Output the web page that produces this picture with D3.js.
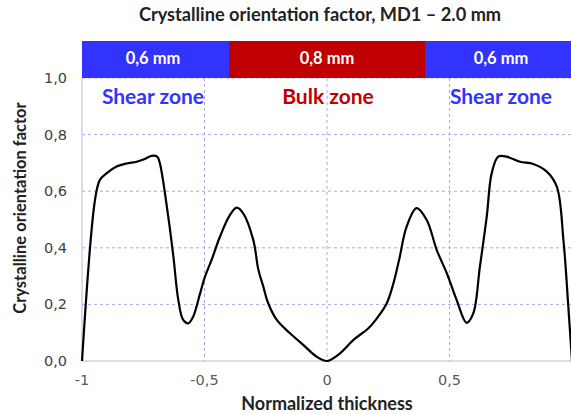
<!DOCTYPE html>
<html>
<head>
<meta charset="utf-8">
<script src="https://cdn.jsdelivr.net/npm/d3@7"></script>
<style>
  body { margin: 0; background: #fff; }
  text { font-family: Lato, "Open Sans", sans-serif; }
</style>
</head>
<body>
<svg id="chart" width="571" height="414"></svg>
<script>
// thickness vs orientation factor
var xs = [-1, -0.947, -0.927, -0.9, -0.859, -0.818, -0.777, -0.749, -0.716, -0.693, -0.682, -0.648, -0.627, -0.607, -0.587, -0.566, -0.546, -0.518, -0.498, -0.471, -0.437, -0.396, -0.369, -0.342, -0.301, -0.28, -0.26, -0.24, -0.205, -0.151, -0.097, -0.042, 0, 0.053, 0.107, 0.169, 0.209, 0.244, 0.271, 0.295, 0.325, 0.366, 0.407, 0.448, 0.489, 0.529, 0.57, 0.597, 0.624, 0.652, 0.672, 0.699, 0.733, 0.788, 0.842, 0.897, 0.938, 0.965, 0.985, 1];
var ys = [0, 0.569, 0.64, 0.663, 0.687, 0.698, 0.704, 0.712, 0.725, 0.722, 0.698, 0.51, 0.369, 0.216, 0.145, 0.133, 0.157, 0.239, 0.298, 0.357, 0.439, 0.516, 0.542, 0.522, 0.428, 0.322, 0.263, 0.204, 0.145, 0.098, 0.057, 0.015, 0, 0.027, 0.074, 0.116, 0.157, 0.204, 0.274, 0.36, 0.475, 0.54, 0.498, 0.392, 0.31, 0.216, 0.135, 0.168, 0.333, 0.51, 0.663, 0.722, 0.722, 0.704, 0.696, 0.669, 0.616, 0.428, 0.192, 0];

var xTicks = [-1, -0.5, 0, 0.5];
var yTicks = [0, 0.2, 0.4, 0.6, 0.8, 1.0];

var zoneStart = [-1, -0.4, 0.4];
var zoneEnd = [-0.4, 0.4, 1];
var zoneWidth = ["0,6 mm", "0,8 mm", "0,6 mm"];
var zoneName = ["Shear zone", "Bulk zone", "Shear zone"];
var zoneColor = ["#3333ff", "#c00000", "#3333ff"];

var svg = d3.select("#chart");
var x = d3.scaleLinear().domain([-1, 1]).range([82, 572]);
var y = d3.scaleLinear().domain([0, 1]).range([361, 78]);

function fmt(v) { return v == 0 ? "0" : (Math.round(v * 10) / 10).toString().replace(".", ","); }

// title
svg.append("text").attr("x", 320).attr("y", 21).attr("text-anchor", "middle")
   .style("font-size", "18.2px").style("font-weight", "bold").style("fill", "#222")
   .text("Crystalline orientation factor, MD1 \u2013 2.0 mm");

// grid
svg.selectAll(".hg").data(yTicks.filter(function(d){ return d > 0; })).enter().append("line")
   .attr("x1", x(-1)).attr("x2", x(1)).attr("y1", function(d){ return y(d); }).attr("y2", function(d){ return y(d); })
   .style("stroke", "#a8a8e0").style("stroke-dasharray", "3,3").style("stroke-width", 1);
svg.selectAll(".vg").data(xTicks.filter(function(d){ return d > -1; })).enter().append("line")
   .attr("x1", function(d){ return x(d); }).attr("x2", function(d){ return x(d); }).attr("y1", y(1)).attr("y2", y(0))
   .style("stroke", "#a8a8e0").style("stroke-dasharray", "3,3").style("stroke-width", 1);

// axes lines
svg.append("line").attr("x1", x(-1)).attr("x2", x(-1)).attr("y1", y(1)).attr("y2", y(0)).style("stroke", "#b8b8e0");
svg.append("line").attr("x1", x(-1)).attr("x2", x(1)).attr("y1", y(0)).attr("y2", y(0)).style("stroke", "#b8b8e0");

// zone bars
svg.selectAll(".zb").data(zoneStart).enter().append("rect")
   .attr("x", function(d){ return x(d); }).attr("y", 41)
   .attr("width", function(d, i){ return x(zoneEnd[i]) - x(d); }).attr("height", y(1) - 41)
   .style("fill", function(d, i){ return zoneColor[i]; });
svg.selectAll(".zt").data(zoneStart).enter().append("text")
   .attr("x", function(d, i){ return [153, 327, 501][i]; }).attr("y", 63.5)
   .attr("text-anchor", "middle").style("font-size", "16.5px").style("font-weight", "bold").style("fill", "#fff")
   .text(function(d, i){ return zoneWidth[i]; });
svg.selectAll(".zn").data(zoneStart).enter().append("text")
   .attr("x", function(d, i){ return [153, 328, 501][i]; }).attr("y", 104)
   .attr("text-anchor", "middle").style("font-size", "21px").style("font-weight", "bold")
   .style("fill", function(d, i){ return zoneColor[i]; })
   .text(function(d, i){ return zoneName[i]; });

// tick labels
svg.selectAll(".yt").data(yTicks).enter().append("text")
   .attr("x", 67).attr("y", function(d){ return y(d) + 5; }).attr("text-anchor", "end")
   .style("font-family", "'DejaVu Sans', sans-serif").style("font-size", "14.5px").style("fill", "#404040")
   .text(function(d){ return d == 0 ? "0,0" : fmt(d).indexOf(",") < 0 ? fmt(d) + ",0" : fmt(d); });
svg.selectAll(".xt").data(xTicks).enter().append("text")
   .attr("x", function(d){ return x(d); }).attr("y", 385).attr("text-anchor", "middle")
   .style("font-family", "'DejaVu Sans', sans-serif").style("font-size", "14.5px").style("fill", "#595959")
   .text(fmt);

// axis titles
svg.append("text").attr("x", 327).attr("y", 410).attr("text-anchor", "middle")
   .style("font-size", "18px").style("font-weight", "bold").style("fill", "#222").text("Normalized thickness");
svg.append("text").attr("transform", "translate(26,208) rotate(-90)").attr("text-anchor", "middle")
   .style("font-size", "16.5px").style("font-weight", "bold").style("fill", "#222").text("Crystalline orientation factor");

// curve
var line = d3.line().x(function(d){ return x(d[0]); }).y(function(d){ return y(d[1]); }).curve(d3.curveCatmullRom.alpha(0.5));
svg.append("path").datum(d3.zip(xs, ys)).attr("d", line)
   .style("fill", "none").style("stroke", "#000").style("stroke-width", 2.2);
</script>
</body>
</html>
